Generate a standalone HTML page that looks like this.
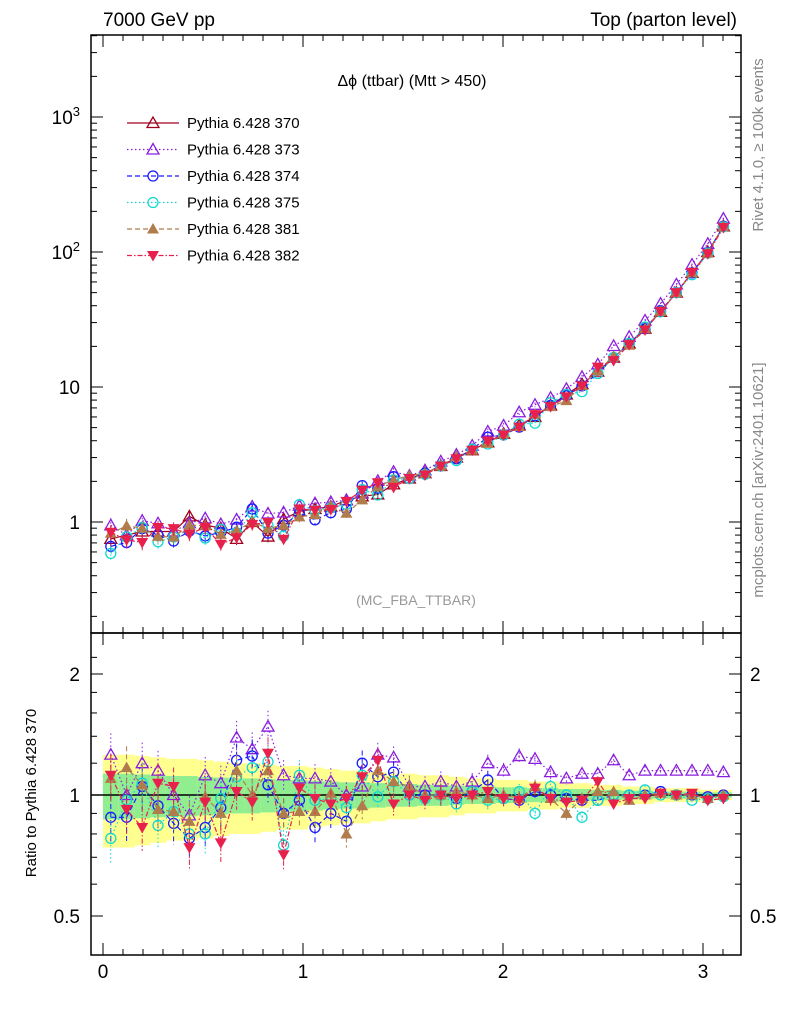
<!DOCTYPE html>
<html><head><meta charset="utf-8"><style>
body{margin:0;background:#fff}
svg{display:block;font-family:"Liberation Sans",sans-serif}
</style></head><body>
<svg id="c" width="786" height="1024" viewBox="0 0 786 1024"></svg>
<script>
const binCenters=[0.039,0.118,0.196,0.275,0.353,0.432,0.511,0.589,0.668,0.746,0.825,0.903,0.982,1.060,1.139,1.217,1.296,1.374,1.453,1.532,1.610,1.689,1.767,1.846,1.924,2.003,2.081,2.160,2.238,2.317,2.395,2.474,2.553,2.631,2.710,2.788,2.867,2.945,3.024,3.102];
const ref370=[0.75,0.8,0.85,0.85,0.85,1.1,0.95,0.9,0.75,1.0,0.78,1.05,1.2,1.25,1.3,1.45,1.55,1.6,1.9,2.1,2.3,2.6,3.0,3.4,3.9,4.5,5.2,6.0,7.3,8.8,10.5,13,16.5,21,27,36,50,70,100,155];
const r373=[1.26,1.0,1.2,1.15,1.0,0.89,1.12,1.07,1.39,1.3,1.48,1.12,1.1,1.1,1.08,1.0,1.05,1.26,1.24,1.05,1.05,1.08,1.05,1.08,1.2,1.15,1.25,1.23,1.14,1.1,1.13,1.13,1.22,1.12,1.15,1.15,1.15,1.15,1.15,1.14];
const r374=[0.88,0.88,1.05,0.94,0.85,0.78,0.83,0.93,1.22,1.25,1.06,0.9,0.97,0.83,0.9,0.86,1.2,1.11,1.14,1.0,1.0,1.0,0.98,1.02,1.09,0.98,0.97,1.02,1.0,0.98,0.97,0.97,1.0,1.0,1.0,1.02,1.0,1.0,0.99,1.0];
const r375=[0.78,0.97,1.07,0.84,0.91,0.8,0.8,0.98,1.11,1.17,1.21,0.75,1.12,0.97,0.98,0.93,1.12,0.99,1.08,1.0,0.98,1.0,0.95,1.02,0.97,0.98,1.02,0.9,1.05,1.0,0.88,0.97,1.0,1.0,1.03,1.0,1.0,0.97,0.98,0.99];
const r381=[1.1,1.17,1.06,0.92,0.91,0.86,0.99,0.9,1.15,1.0,1.15,0.9,0.91,0.91,1.01,0.8,0.94,1.15,1.08,1.05,1.0,1.0,1.02,1.0,0.98,1.0,0.98,1.05,0.98,0.9,0.98,1.02,1.02,0.97,1.0,1.01,1.0,1.0,0.98,1.0];
const r382=[1.12,0.92,0.83,1.07,1.05,0.74,0.96,0.76,1.02,0.96,1.27,0.71,1.04,0.98,0.95,0.98,1.11,1.22,0.95,1.0,0.97,1.0,0.98,1.0,1.02,0.98,0.97,1.04,0.98,0.96,0.97,1.08,0.95,0.98,0.98,1.01,1.0,1.01,0.97,0.98];
const bandY=[0.26,0.26,0.25,0.24,0.23,0.23,0.22,0.21,0.2,0.2,0.19,0.18,0.18,0.17,0.16,0.15,0.15,0.14,0.13,0.13,0.12,0.12,0.11,0.1,0.1,0.09,0.09,0.08,0.08,0.07,0.07,0.06,0.06,0.05,0.05,0.04,0.04,0.04,0.03,0.03];
const xTicks=[0,1,2,3];
const yTicks=[[1000,"10<tspan dy='-8' font-size='13'>3</tspan>"],[100,"10<tspan dy='-8' font-size='13'>2</tspan>"],[10,"10"],[1,"1"]];
const rTicks=[[2,"2"],[1,"1"],[0.5,"0.5"]];

const svg=document.getElementById('c');
const NS='http://www.w3.org/2000/svg';
const L=91,R=741,T1=35,B1=633,B2=955;
const X=v=>103+200*v;
const Y=v=>522-135*Math.log10(v);
const RY=v=>795-121*Math.log2(v);
const bw=200*Math.PI/40;
function el(tag,attrs,parent){const e=document.createElementNS(NS,tag);for(const k in attrs)e.setAttribute(k,attrs[k]);(parent||svg).appendChild(e);return e;}

const bandG=el('g',{});


binCenters.forEach((c,i)=>{
  const x0=X(c)-bw/2;
  el('rect',{x:x0,y:RY(1+bandY[i]),width:bw+0.5,height:RY(1-bandY[i])-RY(1+bandY[i]),fill:'#ffff90'},bandG);
  el('rect',{x:x0,y:RY(1+bandY[i]/2),width:bw+0.5,height:RY(1-bandY[i]/2)-RY(1+bandY[i]/2),fill:'#90ee90'},bandG);
});
el('line',{x1:L,x2:R,y1:RY(1),y2:RY(1),stroke:'#000','stroke-width':1.5});

const series=[
 {name:'Pythia 6.428 370',r:null,col:'#a0001e',dash:'',m:'tri'},
 {name:'Pythia 6.428 373',r:r373,col:'#8a1ee0',dash:'1.5,2.5',m:'tri'},
 {name:'Pythia 6.428 374',r:r374,col:'#1a1aff',dash:'5,3',m:'circ'},
 {name:'Pythia 6.428 375',r:r375,col:'#10d8d0',dash:'1.5,2.5',m:'circ'},
 {name:'Pythia 6.428 381',r:r381,col:'#b07c4c',dash:'5,3',m:'ftri'},
 {name:'Pythia 6.428 382',r:r382,col:'#e8204c',dash:'5,2,1.5,2',m:'dtri'}];
function marker(g,m,x,y,col){
  if(m==='tri')el('polygon',{points:`${x},${y-6} ${x-6},${y+4.5} ${x+6},${y+4.5}`,fill:'none',stroke:col,'stroke-width':1.3},g);
  else if(m==='ftri')el('polygon',{points:`${x},${y-6} ${x-6},${y+4.5} ${x+6},${y+4.5}`,fill:col},g);
  else if(m==='dtri')el('polygon',{points:`${x},${y+6} ${x-6},${y-4.5} ${x+6},${y-4.5}`,fill:col},g);
  else el('circle',{cx:x,cy:y,r:5,fill:'none',stroke:col,'stroke-width':1.3},g);
}
series.forEach((s,si)=>{
  const g=el('g',{});
  
  
  const rr=s.r||binCenters.map(()=>1);
  const vals=ref370.map((v,i)=>v*rr[i]);
  const pm=vals.map((v,i)=>`${X(binCenters[i])},${Y(v)}`).join(' ');
  el('polyline',{points:pm,fill:'none',stroke:s.col,'stroke-width':1.2,'stroke-dasharray':s.dash},g);
  if(s.r){const pr=rr.map((v,i)=>`${X(binCenters[i])},${RY(v)}`).join(' ');
    el('polyline',{points:pr,fill:'none',stroke:s.col,'stroke-width':1.2,'stroke-dasharray':s.dash},g);}
  vals.forEach((v,i)=>{
    const x=X(binCenters[i]);const e=bandY[i]*0.5;
    el('line',{x1:x,x2:x,y1:Y(v*(1+e)),y2:Y(v*(1-e)),stroke:s.col,'stroke-width':1,'stroke-dasharray':s.dash},g);
    marker(g,s.m,x,Y(v),s.col);
    if(s.r){
      el('line',{x1:x,x2:x,y1:RY(rr[i]*(1+e)),y2:RY(rr[i]*(1-e)),stroke:s.col,'stroke-width':1,'stroke-dasharray':s.dash},g);
      marker(g,s.m,x,RY(rr[i]),s.col);
    }
  });
  const ly=123+26.5*si;
  const lg=el('g',{},svg);
  
  
  el('line',{x1:127,x2:179,y1:ly,y2:ly,stroke:s.col,'stroke-width':1.2,'stroke-dasharray':s.dash},lg);
  marker(lg,s.m,153,ly,s.col);
  const t=el('text',{x:187,y:ly+5,'font-size':15},lg);t.textContent=s.name;
});

el('rect',{x:L,y:T1,width:R-L,height:B1-T1,fill:'none',stroke:'#000','stroke-width':1.5});
el('rect',{x:L,y:B1,width:R-L,height:B2-B1,fill:'none',stroke:'#000','stroke-width':1.5});
for(let v=0;v<=3.15;v+=0.1){const x=X(v);const maj=Math.abs(v-Math.round(v))<1e-6;const len=maj?12:6;
  [B1,B2].forEach(b=>el('line',{x1:x,x2:x,y1:b,y2:b-len,stroke:'#000'}));
  [T1,B1].forEach(t=>el('line',{x1:x,x2:x,y1:t,y2:t+len,stroke:'#000'}));}
xTicks.forEach(v=>{const t=el('text',{x:X(v),y:978,'font-size':19,'text-anchor':'middle'});t.textContent=v;});
for(let d=-1;d<=3;d++)for(let k=1;k<10;k++){const v=k*Math.pow(10,d);const y=Y(v);if(y<T1||y>B1)continue;const len=k===1?12:6;
  el('line',{x1:L,x2:L+len,y1:y,y2:y,stroke:'#000'});el('line',{x1:R,x2:R-len,y1:y,y2:y,stroke:'#000'});}
yTicks.forEach(([v,s])=>{const t=el('text',{x:80,y:Y(v)+7,'font-size':19,'text-anchor':'end'});t.innerHTML=s;});
[0.5,0.6,0.7,0.8,0.9,1,1.2,1.4,1.6,1.8,2,2.2].forEach(v=>{const y=RY(v);if(y<B1)return;const len=[0.5,1,2].includes(v)?12:6;
  el('line',{x1:L,x2:L+len,y1:y,y2:y,stroke:'#000'});el('line',{x1:R,x2:R-len,y1:y,y2:y,stroke:'#000'});});
rTicks.forEach(([v,s])=>{let t=el('text',{x:80,y:RY(v)+7,'font-size':19,'text-anchor':'end'});t.textContent=s;
  t=el('text',{x:750,y:RY(v)+7,'font-size':19});t.textContent=s;});
</script>
<svg width="786" height="1024" style="position:absolute;left:0;top:0">
<text x="103" y="26" font-size="19" font-family="Liberation Sans">7000 GeV pp</text>
<text x="737" y="26" font-size="19" text-anchor="end" font-family="Liberation Sans">Top (parton level)</text>
<text x="412" y="86" font-size="16" text-anchor="middle" font-family="Liberation Sans">Δϕ (ttbar) (Mtt &gt; 450)</text>
<text x="416" y="605" font-size="14" fill="#999" text-anchor="middle" font-family="Liberation Sans">(MC_FBA_TTBAR)</text>
<text transform="translate(763,145) rotate(-90)" font-size="15" fill="#888" text-anchor="middle" font-family="Liberation Sans">Rivet 4.1.0, ≥ 100k events</text>
<text transform="translate(763,480) rotate(-90)" font-size="15" fill="#888" text-anchor="middle" font-family="Liberation Sans">mcplots.cern.ch [arXiv:2401.10621]</text>
<text transform="translate(36,793) rotate(-90)" font-size="15" text-anchor="middle" font-family="Liberation Sans">Ratio to Pythia 6.428 370</text>
</svg>
</body></html>
